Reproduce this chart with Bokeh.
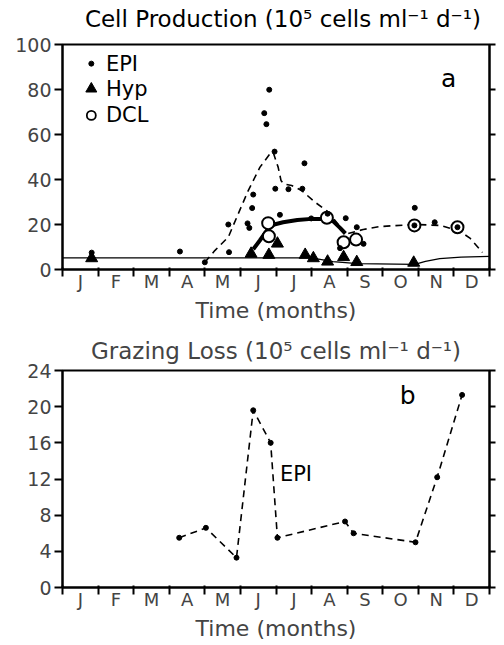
from bokeh.plotting import figure
from bokeh.models import FixedTicker, LinearAxis, Range1d, CustomJSTickFormatter
from bokeh.layouts import column
from bokeh.embed import file_html
from bokeh.resources import INLINE
from bokeh.core.properties import value

FONT = "DejaVu Sans"

# ---------------- data ----------------
months = ["J", "F", "M", "A", "M", "J", "J", "A", "S", "O", "N", "D"]
month_centers = [i + 0.5 for i in range(12)]
month_bounds = list(range(13))

# Panel a: cell production (time in months from Jan 1)
epi_t = [0.82, 3.30, 4.00, 4.66, 4.68, 5.20, 5.25, 5.33, 5.36, 5.67, 5.73, 5.81, 5.96, 5.98,
         6.11, 6.35, 6.74, 6.80, 6.99, 7.45, 7.80, 7.96, 8.27, 8.46, 9.89, 9.90, 10.46, 11.10]
epi_v = [7.5, 8.0, 3.2, 20.0, 7.7, 20.5, 18.5, 27.3, 33.3, 69.5, 64.6, 79.9, 52.4, 35.9,
         24.3, 35.7, 35.9, 47.2, 22.7, 24.8, 9.5, 22.8, 18.8, 11.4, 19.6, 27.4, 21.0, 18.8]

hyp_t = [0.82, 5.30, 5.80, 6.04, 6.82, 7.05, 7.45, 7.90, 8.27, 9.87]
hyp_v = [5.0, 7.0, 6.5, 11.5, 6.5, 5.0, 3.5, 5.5, 3.3, 3.0]

dcl_t = [5.78, 5.80, 7.43, 7.90, 8.25, 9.89, 11.10]
dcl_v = [20.6, 14.8, 23.0, 12.1, 13.3, 19.6, 18.8]

epi_curve_t = [4.00, 4.28, 4.66, 4.94, 5.22, 5.55, 5.83, 5.92, 6.06, 6.14, 6.21, 6.44,
               6.72, 7.10, 7.47, 7.66, 7.85, 7.94]
epi_curve_v = [3.2, 8.4, 14.4, 24.8, 35.1, 45.5, 51.4, 52.1, 45.5, 39.6, 38.1, 37.3,
               35.1, 29.9, 25.5, 21.8, 18.1, 16.4]

epi_curve2_t = [8.03, 8.45, 8.93, 9.89, 10.62, 11.18, 11.46, 11.80]
epi_curve2_v = [16.0, 17.8, 19.1, 20.0, 19.6, 16.9, 13.8, 7.6]

dcl_curve_t = [5.36, 5.55, 5.75, 5.95, 6.20, 6.60, 7.00, 7.40, 7.60, 7.80, 7.95]
dcl_curve_v = [9.0, 13.0, 17.5, 20.0, 21.0, 22.0, 22.5, 22.5, 21.5, 18.5, 16.0]

hyp_curve_t = [0.0, 7.0, 7.6, 8.3, 9.9, 10.2, 10.6, 11.2, 12.0]
hyp_curve_v = [5.2, 5.2, 3.5, 2.6, 2.3, 3.6, 4.8, 5.5, 5.8]

# Panel b: grazing loss (EPI)
graz_t = [3.28, 4.03, 4.89, 5.36, 5.85, 6.04, 7.94, 8.18, 9.92, 10.53, 11.23]
graz_v = [5.5, 6.6, 3.3, 19.6, 16.0, 5.5, 7.3, 6.0, 5.0, 12.2, 21.3]

ticks_a = [0, 20, 40, 60, 80, 100]
ticks_b = [0, 4, 8, 12, 16, 20, 24]

legend_names = ["EPI", "Hyp", "DCL"]
title_a = "Cell Production (10\u2075 cells ml\u207b\u00b9 d\u207b\u00b9)"
title_b = "Grazing Loss (10\u2075 cells ml\u207b\u00b9 d\u207b\u00b9)"

TITLE_SIZE = "23px"
FRAME_W = 427


def make_fig(ymax, yticks, border_top, frame_h, border_bottom, title=None, title_standoff=10):
    p = figure(x_range=Range1d(0, 12), y_range=Range1d(0, ymax),
               frame_width=FRAME_W, frame_height=frame_h,
               min_border_left=62, min_border_right=7,
               min_border_top=border_top, min_border_bottom=border_bottom,
               output_backend="svg", toolbar_location=None, title=title)
    if title is not None:
        p.title.text_font = FONT
        p.title.text_font_size = TITLE_SIZE
        p.title.text_font_style = "normal"
        p.title.align = "center"
        p.title.offset = 5
        p.title.standoff = title_standoff
    p.grid.visible = False
    p.outline_line_color = "black"
    p.outline_line_width = 2
    p.background_fill_color = "white"
    p.border_fill_color = "white"

    xa = p.xaxis[0]
    xa.ticker = FixedTicker(ticks=month_centers, minor_ticks=month_bounds)
    xa.major_label_overrides = {c: m for c, m in zip(month_centers, months)}
    xa.major_tick_out = 0
    xa.major_tick_in = 0
    xa.minor_tick_out = 7
    xa.minor_tick_in = 2
    xa.minor_tick_line_width = 2
    xa.axis_line_width = 2
    xa.major_label_text_font = FONT
    xa.major_label_text_font_size = "18px"
    xa.major_label_standoff = -6
    xa.axis_label = "Time (months)"
    xa.axis_label_text_font = FONT
    xa.axis_label_text_font_size = "22px"
    xa.axis_label_text_font_style = "normal"
    xa.axis_label_standoff = 3

    ya = p.yaxis[0]
    ya.ticker = FixedTicker(ticks=yticks)
    ya.major_tick_out = 8
    ya.major_tick_in = 0
    ya.minor_tick_out = 0
    ya.minor_tick_in = 0
    ya.major_tick_line_width = 2
    ya.axis_line_width = 2
    ya.major_label_text_font = FONT
    ya.major_label_text_font_size = "19px"
    ya.major_label_standoff = 3

    ra = LinearAxis(ticker=FixedTicker(ticks=yticks),
                    formatter=CustomJSTickFormatter(code="return ''"),
                    major_tick_out=6, major_tick_in=0, minor_tick_out=0, minor_tick_in=0,
                    major_tick_line_width=2, axis_line_width=2, major_label_standoff=0)
    p.add_layout(ra, "right")
    return p


# ---------------- title strip for panel a ----------------
TW, TH = 496, 32
pt = figure(width=TW, height=TH, x_range=Range1d(0, TW), y_range=Range1d(0, TH),
            x_axis_location=None, y_axis_location=None,
            min_border=0, output_backend="svg", toolbar_location=None)
pt.grid.visible = False
pt.outline_line_color = None
pt.background_fill_color = "white"
pt.border_fill_color = "white"
pt.text([256], [14], text=[title_a], text_font=value(FONT), text_font_size=TITLE_SIZE,
        text_align="center", text_baseline="middle", text_color="black")

# ---------------- panel a ----------------
pa = make_fig(100, ticks_a, 12, 225, 57)

pa.line(hyp_curve_t, hyp_curve_v, line_color="black", line_width=1.3)
pa.line(epi_curve_t, epi_curve_v, line_color="black", line_width=1.6, line_dash="7 5")
pa.line(epi_curve2_t, epi_curve2_v, line_color="black", line_width=1.6, line_dash="7 5")
pa.line(dcl_curve_t, dcl_curve_v, line_color="black", line_width=4)
pa.scatter(dcl_t, dcl_v, marker="circle", size=12, fill_color="white", line_color="black", line_width=2)
pa.scatter(epi_t, epi_v, marker="circle", size=5, fill_color="black", line_color="black")
pa.scatter(hyp_t, hyp_v, marker="triangle", size=12, fill_color="black", line_color="black")

# legend (manual, top-left)
leg_x = 0.81
leg_tx = 1.22
leg_y = [91.5, 80.3, 68.5]
pa.scatter([leg_x], [leg_y[0]], marker="circle", size=5, fill_color="black", line_color="black")
pa.scatter([leg_x], [leg_y[1]], marker="triangle", size=11, fill_color="black", line_color="black")
pa.scatter([leg_x], [leg_y[2]], marker="circle", size=9, fill_color="white", line_color="black", line_width=1.8)
pa.text([leg_tx] * 3, leg_y, text=legend_names, text_font=value(FONT), text_font_size="21px",
        text_align="left", text_baseline="middle", text_color="black")
pa.text([10.85], [85], text=["a"], text_font=value(FONT), text_font_size="25px",
        text_align="center", text_baseline="middle", text_color="black")

# ---------------- panel b ----------------
pb = make_fig(24, ticks_b, 44, 217, 58, title=title_b, title_standoff=14)
pb.line(graz_t, graz_v, line_color="black", line_width=1.6, line_dash="7 5")
pb.scatter(graz_t, graz_v, marker="circle", size=5, fill_color="black", line_color="black")
pb.text([6.11], [12.6], text=["EPI"], text_font=value(FONT), text_font_size="21px",
        text_align="left", text_baseline="middle", text_color="black")
pb.text([9.7], [21.2], text=["b"], text_font=value(FONT), text_font_size="25px",
        text_align="center", text_baseline="middle", text_color="black")

layout = column(pt, pa, pb, spacing=0)
open("out.html", "w").write(file_html(layout, INLINE))
